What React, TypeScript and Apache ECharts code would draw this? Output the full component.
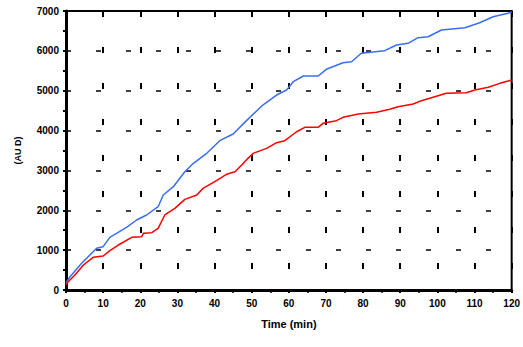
import React, { useEffect, useRef } from "react";
import * as echarts from "echarts";

const blueTime = [0, 1.1, 4.2, 8.25, 10, 11.8, 16.3, 19, 21.7, 24.8, 26.2, 28.9, 32, 34.3, 37.9, 41.4, 45, 48.6, 53, 56.7, 59.4, 61.2, 63.9, 67.9, 70.1, 74.6, 76.9, 79.5, 85.8, 89, 92.1, 94.8, 97.5, 101.1, 107.4, 111.4, 115, 119, 120];
const blueValues = [175, 334, 669, 1046, 1087, 1321, 1572, 1756, 1882, 2090, 2383, 2592, 2968, 3178, 3429, 3746, 3914, 4250, 4641, 4892, 5018, 5226, 5369, 5369, 5537, 5703, 5728, 5939, 6004, 6147, 6189, 6330, 6355, 6523, 6581, 6706, 6857, 6941, 6975];

const redTime = [0, 0.2, 2.4, 4.7, 7.3, 10, 11.8, 14.1, 17.7, 20.4, 20.8, 23.1, 24.8, 26.6, 29.3, 32, 35.2, 36.9, 40.5, 43.2, 45.5, 47.3, 49, 50.4, 54, 56.7, 58.9, 62.1, 64.3, 67.9, 69.2, 72.8, 74.6, 78.7, 83.6, 87.2, 89.4, 93.5, 95.7, 99.3, 102.4, 107.8, 110.1, 113.7, 116.8, 119.3, 120];
const redValues = [130, 167, 376, 627, 820, 853, 986, 1129, 1321, 1338, 1422, 1438, 1547, 1882, 2049, 2274, 2383, 2550, 2743, 2902, 2968, 3136, 3303, 3429, 3554, 3696, 3746, 3971, 4082, 4082, 4182, 4248, 4332, 4415, 4458, 4533, 4599, 4666, 4750, 4850, 4934, 4950, 5018, 5085, 5185, 5251, 5270];

const xTickLabels = ["0", "10", "20", "30", "40", "50", "60", "70", "80", "90", "100", "110", "120"];
const yTickLabels = ["0", "1000", "2000", "3000", "4000", "5000", "6000", "7000"];

const xName = "Time (min)";
const yName = "(AU D)";

export default function App() {
  const ref = useRef<HTMLDivElement>(null);
  useEffect(() => {
    const chart = echarts.init(ref.current!, undefined, { renderer: "svg" });
    const font = { fontFamily: "Liberation Sans, Arial, sans-serif", fontWeight: "bold" as const, fontSize: 10, color: "#000" };
    chart.setOption({
      animation: false,
      backgroundColor: "#fff",
      grid: {
        left: 66,
        top: 11,
        right: 11,
        bottom: 57,
        show: true,
        borderColor: "#000",
        borderWidth: 2,
        backgroundColor: "transparent",
      },
      xAxis: {
        type: "value",
        min: 0,
        max: 120,
        interval: 10,
        name: xName,
        nameLocation: "middle",
        nameGap: 28,
        nameTextStyle: { ...font, fontSize: 11 },
        axisLine: { show: true, onZero: false, lineStyle: { color: "#000", width: 3 } },
        axisTick: { show: true, length: 3, lineStyle: { color: "#000", width: 2 } },
        minorTick: { show: true, splitNumber: 2, length: 3, lineStyle: { color: "#000", width: 1.5 } },
        axisLabel: {
          ...font,
          margin: 8,
          formatter: (v: number) => xTickLabels[Math.round(v / 10)] ?? "",
        },
        splitLine: {
          show: true,
          lineStyle: { color: "#000", width: 2, type: [6, 30] },
        },
      },
      yAxis: {
        type: "value",
        min: 0,
        max: 7000,
        interval: 1000,
        name: yName,
        nameLocation: "middle",
        nameGap: 44,
        nameRotate: 90,
        nameTextStyle: { ...font, fontSize: 9 },
        axisLine: { show: true, onZero: false, lineStyle: { color: "#000", width: 3 } },
        axisTick: { show: true, length: 3, lineStyle: { color: "#000", width: 2 } },
        minorTick: { show: true, splitNumber: 2, length: 3, lineStyle: { color: "#000", width: 2 } },
        axisLabel: {
          ...font,
          margin: 7,
          formatter: (v: number) => yTickLabels[Math.round(v / 1000)] ?? "",
        },
        splitLine: {
          show: true,
          lineStyle: { color: "#000", width: 1.5, type: [5, 25], dashOffset: 0 },
        },
      },
      series: [
        {
          type: "line",
          data: blueTime.map((t, i) => [t, blueValues[i]]),
          showSymbol: false,
          lineStyle: { color: "#3a6df5", width: 1.5 },
          itemStyle: { color: "#3a6df5" },
        },
        {
          type: "line",
          data: redTime.map((t, i) => [t, redValues[i]]),
          showSymbol: false,
          lineStyle: { color: "#ff0000", width: 1.5 },
          itemStyle: { color: "#ff0000" },
        },
      ],
    });
    return () => chart.dispose();
  }, []);
  return (
    <div
      ref={ref}
      style={{ position: "fixed", left: 0, top: 0, width: 523, height: 347 }}
    />
  );
}
